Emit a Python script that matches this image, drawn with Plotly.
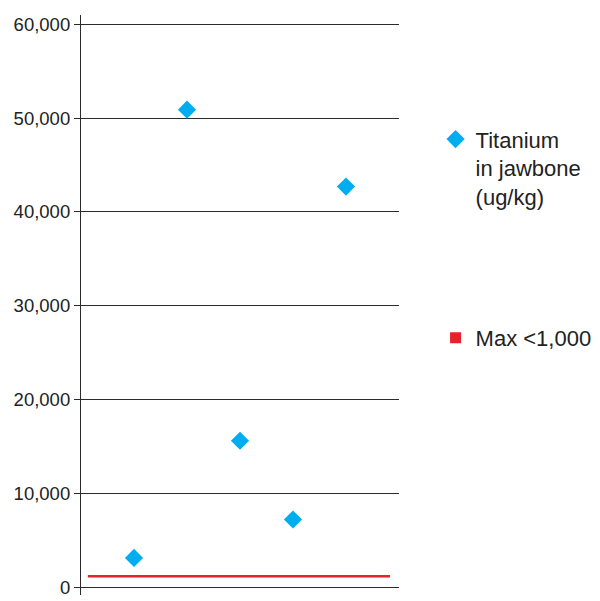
import plotly.graph_objects as go

samples = [1, 2, 3, 4, 5]
titanium = [3100, 50900, 15600, 7200, 42700]
max_limit = 1150
limit_span = [0.13, 5.83]
y_ticks = [0, 10000, 20000, 30000, 40000, 50000, 60000]
y_labels = ["0", "10,000", "20,000", "30,000", "40,000", "50,000", "60,000"]

FONT = "Liberation Sans"
fig = go.Figure()
fig.add_trace(go.Scatter(
    x=limit_span, y=[max_limit, max_limit], mode="lines",
    line=dict(color="#e8202a", width=2.5), showlegend=False, hoverinfo="skip"))
fig.add_trace(go.Scatter(
    x=samples, y=titanium, mode="markers",
    marker=dict(symbol="diamond", size=14, color="#00aeef"),
    name="Titanium<br>in jawbone<br>(ug/kg)", legendgroup="a"))
fig.add_trace(go.Scatter(
    x=[None], y=[None], mode="markers",
    marker=dict(symbol="square", size=11, color="#e8202a"),
    name="Max <1,000", legendgroup="b"))

fig.update_layout(
    width=592, height=593,
    margin=dict(l=73, r=201, t=7, b=6, autoexpand=False),
    plot_bgcolor="white", paper_bgcolor="white",
    font=dict(family=FONT, color="#222222"),
    xaxis=dict(range=[0, 6], showgrid=False, zeroline=False, showticklabels=False,
               ticks="", showline=False),
    yaxis=dict(range=[-850, 61000], tickvals=y_ticks, ticktext=y_labels,
               showgrid=True, gridcolor="#2a2a2a", gridwidth=1.2, zeroline=False,
               showline=True, linecolor="#2a2a2a", linewidth=1.2,
               ticks="outside", ticklen=6, tickcolor="#2a2a2a", tickwidth=1.2,
               tickfont=dict(family=FONT, size=18.5, color="#222222")),
    legend=dict(x=1.115, y=0.822, xanchor="left", yanchor="top",
                font=dict(family=FONT, size=22, color="#222222"),
                valign="top", tracegroupgap=110, bgcolor="rgba(0,0,0,0)"),
)
fig.write_html("out.html")
